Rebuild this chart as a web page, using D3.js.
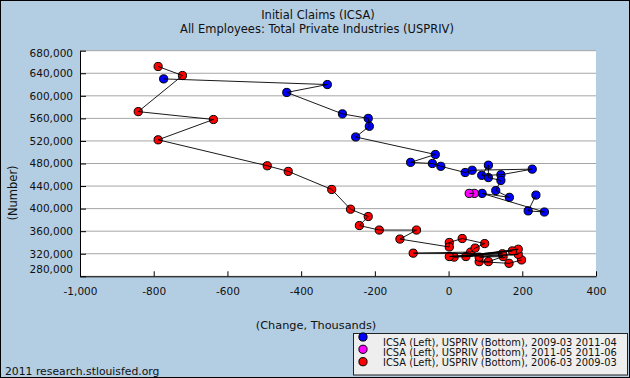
<!DOCTYPE html>
<html><head><meta charset="utf-8">
<script src="https://cdn.jsdelivr.net/npm/d3@7/dist/d3.min.js"></script>
<style>
html,body{margin:0;padding:0;background:#fff;}
svg{display:block;font-family:"DejaVu Sans",Verdana,sans-serif;}
</style></head>
<body>
<svg id="chart" width="630" height="378"></svg>
<script>
// ---- Data (USPRIV change in thousands, ICSA initial claims) ----
const blueX = [-773,-329,-439,-288,-218,-215,-252,-36,-103,-44,-21,45,64,227,142,90,108,108,142,128,165,91,260,216,237];
const blueY = [630000,620000,606000,568000,560000,546000,527000,496000,482000,480000,475000,464000,468000,470000,460000,459000,477000,455000,450000,432000,420000,427000,394000,396000,424000];
const magentaX = [70,56];
const magentaY = [427000,427000];
const redX = [198,164,83,108,148,83,189,15,189,47,173,2,146,-96,60,72,98,37,2,2,-132,-87,-188,-242,-218,-266,-317,-435,-492,-788,-638,-842,-722,-788];
const redY = [309000,303000,306000,306000,315000,314000,319000,314000,328000,315000,325000,315000,320000,321000,323000,330000,338000,347000,340000,332000,346000,362000,362000,370000,386000,399000,434000,466000,476000,522000,558000,572000,636000,652000];
const xTicks = [-1000,-800,-600,-400,-200,0,200,400];
const yTicks = [280000,320000,360000,400000,440000,480000,520000,560000,600000,640000,680000];
const seriesNames = ["ICSA (Left), USPRIV (Bottom), 2009-03 2011-04","ICSA (Left), USPRIV (Bottom), 2011-05 2011-06","ICSA (Left), USPRIV (Bottom), 2006-03 2009-03"];
const seriesColors = ["#0000ff","#ff00ff","#ff0000"];
const titleLines = ["Initial Claims (ICSA)","All Employees: Total Private Industries (USPRIV)"];

const series = [
  {x: blueX, y: blueY, color: seriesColors[0]},
  {x: magentaX, y: magentaY, color: seriesColors[1]},
  {x: redX, y: redY, color: seriesColors[2]}
];

const svg = d3.select("#chart");
const W = 630, H = 378;
const bg = "#b3cde3";
svg.append("rect").attr("x",0.5).attr("y",0.5).attr("width",W-1).attr("height",H-1)
  .attr("fill",bg).attr("stroke","#000").attr("stroke-width",1);

const x = d3.scaleLinear().domain([-1000,400]).range([80,596]);
const y = d3.scaleLinear().domain([280000,680000]).range([276.3,50.7]);

// plot area
svg.append("rect").attr("x",x(-1000)).attr("y",y(680000)).attr("width",x(400)-x(-1000)).attr("height",y(280000)-y(680000)).attr("fill","#fff");

// gridlines
svg.append("g").selectAll("line").data(yTicks).join("line")
  .attr("x1",x(-1000)).attr("x2",x(400)).attr("y1",d=>y(d)).attr("y2",d=>y(d))
  .attr("stroke","#a6a6a6").attr("stroke-width",1);

// axes
const base = d3.format(",");
const fmt = d => base(d).replace("\u2212","-");
const gx = svg.append("g").attr("transform",`translate(0,${y(280000)})`)
  .call(d3.axisBottom(x).tickValues(xTicks).tickFormat(fmt).tickSizeInner(-5).tickSizeOuter(0).tickPadding(11));
const gy = svg.append("g").attr("transform",`translate(${x(-1000)},0)`)
  .call(d3.axisLeft(y).tickValues(yTicks).tickFormat(fmt).tickSizeInner(-6).tickSizeOuter(0).tickPadding(7));
[gx,gy].forEach(g=>{
  g.select(".domain").attr("stroke","#000");
  g.selectAll(".tick line").attr("stroke","#000");
  g.selectAll(".tick text").attr("fill","#111").style("font-family","DejaVu Sans").style("font-size","10.5px");
});
gy.selectAll(".tick text").attr("y", d => d===280000 ? -7 : (d===680000 ? 2.6 : 0));

// markers
const mg = svg.append("g");
series.forEach(s=>{
  const pts = s.x.map((v,i)=>[v,s.y[i]]);
  mg.selectAll(null).data(pts).join("circle")
    .attr("cx",d=>x(d[0])).attr("cy",d=>y(d[1])).attr("r",4.1)
    .attr("fill",s.color).attr("stroke","#000").attr("stroke-width",1);
});
// connecting lines on top
const line = d3.line().x(d=>x(d[0])).y(d=>y(d[1]));
series.forEach(s=>{
  const pts = s.x.map((v,i)=>[v,s.y[i]]);
  svg.append("path").attr("d",line(pts)).attr("fill","none").attr("stroke","#000").attr("stroke-width",0.9);
});

// titles
svg.append("text").attr("x",318).attr("y",19).attr("text-anchor","middle").style("font-size","11.5px").attr("fill","#111").text(titleLines[0]);
svg.append("text").attr("x",317).attr("y",33).attr("text-anchor","middle").style("font-size","11.5px").attr("fill","#111").text(titleLines[1]);
svg.append("text").attr("x",316).attr("y",329).attr("text-anchor","middle").style("font-size","11.3px").attr("fill","#111").text("(Change, Thousands)");
svg.append("text").attr("transform","translate(17,193) rotate(-90)").attr("text-anchor","middle").style("font-size","11.5px").attr("fill","#111").text("(Number)");
svg.append("text").attr("x",5).attr("y",375).style("font-size","10.8px").attr("fill","#111").text("2011 research.stlouisfed.org");

// legend
const lg = svg.append("g");
lg.append("rect").attr("x",353.5).attr("y",333.5).attr("width",274).attr("height",41.5).attr("fill","#eeeeee").attr("stroke","#222");
const markerY = [337,349.3,361.7];
const textY = [346,356,366];
seriesNames.forEach((n,i)=>{
  lg.append("circle").attr("cx",363).attr("cy",markerY[i]).attr("r",4.1).attr("fill",seriesColors[i]).attr("stroke","#000");
  lg.append("text").attr("x",383).attr("y",textY[i]).style("font-size","9.9px").attr("fill","#111").text(n);
});
</script>
</body></html>
